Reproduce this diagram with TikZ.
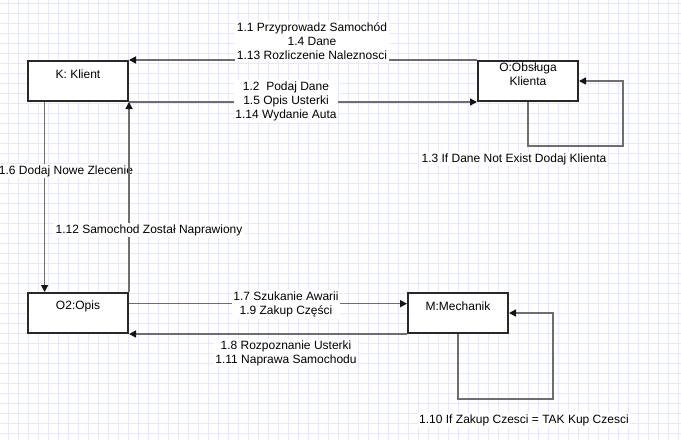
\documentclass[tikz,border=0pt]{standalone}
\usepackage{fontspec}
\setmainfont{Liberation Sans}
\usetikzlibrary{arrows.meta}
\definecolor{gridcol}{RGB}{232,232,252}
\definecolor{boxline}{RGB}{40,40,40}
\definecolor{conncol}{RGB}{110,110,110}
\definecolor{headcol}{RGB}{20,20,20}
\begin{document}
\begin{tikzpicture}[x=1pt,y=-1pt,
  objbox/.style={draw=boxline,line width=2pt,fill=white,minimum width=100pt,minimum height=40pt,inner sep=0pt},
  boxtext/.style={font=\fontsize{12}{14}\selectfont,align=center,inner sep=0pt},
  conn/.style={draw=conncol,line width=1.5pt,-{Triangle[length=7pt,width=7pt,color=headcol]}},
  lbl/.style={fill=white,font=\fontsize{12}{14}\selectfont,align=center,inner sep=1.5pt},
  gridline/.style={draw=gridcol,line width=0.7pt}]
\useasboundingbox (0,0) rectangle (681,440);
\fill[white] (0,0) rectangle (681,440);
\foreach \x in {8,18,...,678} \draw[gridline] (\x,0) -- (\x,440);
\foreach \y in {3,13,...,433} \draw[gridline] (0,\y) -- (681,\y);

% objects
\node[objbox] (K) at (78,81) {};
\node[boxtext] (Kt) at (78,74) {K: Klient};
\node[objbox] (O) at (528,81) {};
\node[boxtext] (Ot) at (528,74) {O:Obsługa\\Klienta};
\node[objbox] (O2) at (78,313) {};
\node[boxtext] (O2t) at (78,306) {O2:Opis};
\node[objbox] (M) at (458,313) {};
\node[boxtext] (Mt) at (458,306) {M:Mechanik};

% loop corner points
\coordinate (oa) at (528,146);
\coordinate (ob) at (623,146);
\coordinate (oc) at (623,81);
\coordinate (ma) at (458,399);
\coordinate (mb) at (553,399);
\coordinate (mc) at (553,313);

% connectors K <-> O
\draw[conn] (O.north west) -- (K.north east);
\node[lbl] (l1) at (312,41) {1.1 Przyprowadz Samochód\\1.4 Dane\\1.13 Rozliczenie Naleznosci};
\draw[conn] (K.south east) -- (O.south west);
\node[lbl] (l2) at (286,101) {1.2\ \ Podaj Dane\\1.5 Opis Usterki\\1.14 Wydanie Auta};

% O self loop
\draw[conn] (O.south) -- (oa) -- (ob) -- (oc) -- (O.east);
\node[lbl] (l3) at (514,159) {1.3 If Dane Not Exist Dodaj Klienta};

% K <-> O2
\draw[conn] ([xshift=17.6pt]K.south west) -- ([xshift=17.6pt]O2.north west);
\node[lbl] (l6) at (66,171) {1.6 Dodaj Nowe Zlecenie};
\draw[conn] (O2.north east) -- (K.south east);
\node[lbl] (l12) at (149,230) {1.12 Samochod Został Naprawiony};

% O2 <-> M
\draw[conn] ([yshift=-11.7pt]O2.north east) -- ([yshift=-11.7pt]M.north west);
\node[lbl] (l7) at (286,304.5) {1.7 Szukanie Awarii\\1.9 Zakup Części};
\draw[conn] (M.south west) -- (O2.south east);
\node[lbl] (l8) at (286,353) {1.8 Rozpoznanie Usterki\\1.11 Naprawa Samochodu};

% M self loop
\draw[conn] (M.south) -- (ma) -- (mb) -- (mc) -- (M.east);
\node[lbl] (l10) at (524,420) {1.10 If Zakup Czesci = TAK Kup Czesci};
\end{tikzpicture}
\end{document}
